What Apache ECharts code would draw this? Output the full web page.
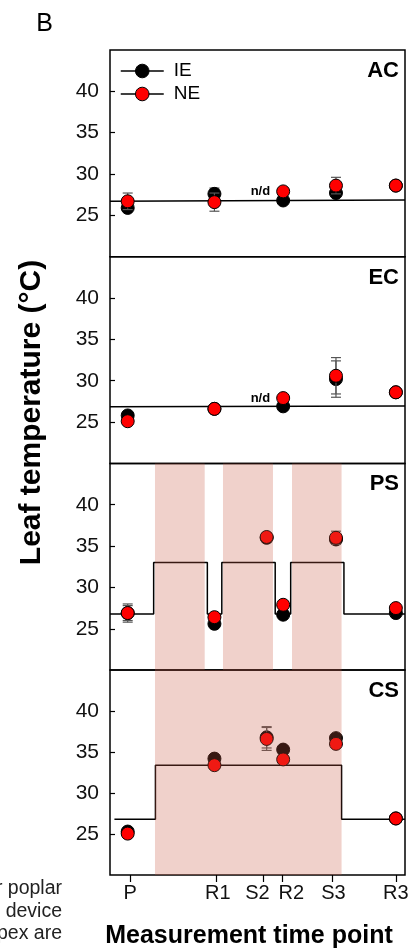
<!DOCTYPE html>
<html>
<head>
<meta charset="utf-8">
<script src="https://cdn.jsdelivr.net/npm/echarts@6/dist/echarts.min.js"></script>
<style>
  html, body { margin: 0; padding: 0; background: #fff; }
  #chart-container { width: 414px; height: 950px; }
</style>
</head>
<body>
<div id="chart-container"></div>
<script>
// time points (x in arbitrary time units, 0..100 across the panel)
var timeLabels = ['P', 'R1', 'S2', 'R2', 'S3', 'R3'];
var tickX = [6.8, 35.9, 52.0, 58.4, 75.4, 96.9];
var pointX = [6.0, 35.4, 53.1, 58.7, 76.6, 96.9];
var panels = ['AC', 'EC', 'PS', 'CS'];
var yTicks = [25, 30, 35, 40];

// leaf temperature means and error (null = n/d)
var acIE = [25.9, 27.6, null, 26.8, 27.7, 28.6];
var acIEse = [0.3, 0.7, null, 0.2, 0.3, 0.2];
var acNE = [26.7, 26.6, null, 27.9, 28.6, 28.6];
var acNEse = [1.0, 1.1, null, 0.3, 1.0, 0.2];

var ecIE = [25.8, 26.6, null, 26.9, 30.2, 28.6];
var ecIEse = [0.2, 0.2, null, 0.2, 2.2, 0.2];
var ecNE = [25.1, 26.6, null, 27.9, 30.6, 28.6];
var ecNEse = [0.2, 0.2, null, 0.2, 2.2, 0.2];

var psIE = [26.9, 25.6, 36.0, 26.7, 35.8, 26.9];
var psIEse = [1.1, 0.2, 0.5, 0.2, 0.6, 0.2];
var psNE = [26.9, 26.4, 36.1, 27.9, 36.0, 27.5];
var psNEse = [0.9, 0.2, 0.5, 0.3, 0.8, 0.3];

var csIE = [25.3, 34.2, 36.8, 35.3, 36.7, 26.9];
var csIEse = [0.2, 0.2, 1.3, 0.2, 0.2, 0.2];
var csNE = [25.05, 33.4, 36.6, 34.1, 36.0, 26.9];
var csNEse = [0.2, 0.2, 1.4, 0.2, 0.2, 0.2];

// air temperature regime
var acRef = [26.7, 26.85];
var ecRef = [26.85, 26.95];
var psStepX = [0, 14.8, 33.0, 37.9, 56.0, 61.25, 79.3, 100];
var psStepY = [26.8, 33.0, 26.8, 33.0, 26.8, 33.0, 26.8, 26.8];
var csStepX = [1.5, 15.4, 78.5, 100];
var csStepY = [26.8, 33.4, 26.8, 26.8];

// shaded (stress) periods
var psBands = [[15.25, 32.1], [38.3, 55.25], [61.7, 78.5]];
var csBands = [[15.25, 78.5]];

var ieData = [acIE, ecIE, psIE, csIE];
var ieSe = [acIEse, ecIEse, psIEse, csIEse];
var neData = [acNE, ecNE, psNE, csNE];
var neSe = [acNEse, ecNEse, psNEse, csNEse];
var hasND = [true, true, false, false];

// label nudges (px) so crowded tick labels do not collide
var labelShift = [0, 2, -6, 9, 1, 0];

var FONT = 'Liberation Sans, Arial, sans-serif';
var gridTop = 50, gridH = 206.7;

var dom = document.getElementById('chart-container');
var myChart = echarts.init(dom, null, { renderer: 'canvas' });

function tickIndex(v) {
  for (var k = 0; k < tickX.length; k++) {
    if (Math.abs(tickX[k] - v) < 1e-6) return k;
  }
  return -1;
}

var xRich = {};
labelShift.forEach(function (s, k) {
  xRich['t' + k] = {
    fontSize: 20, color: '#111', fontFamily: FONT,
    padding: s >= 0 ? [0, 0, 0, 2 * s] : [0, -2 * s, 0, 0]
  };
});

function errBar(params, api) {
  var x = api.value(0), m = api.value(1), s = api.value(2);
  var top = api.coord([x, m + s]);
  var bot = api.coord([x, m - s]);
  var hw = 5;
  var st = { stroke: '#555', lineWidth: 1.2 };
  return {
    type: 'group',
    children: [
      { type: 'line', shape: { x1: top[0], y1: top[1], x2: bot[0], y2: bot[1] }, style: st },
      { type: 'line', shape: { x1: top[0] - hw, y1: top[1], x2: top[0] + hw, y2: top[1] }, style: st },
      { type: 'line', shape: { x1: bot[0] - hw, y1: bot[1], x2: bot[0] + hw, y2: bot[1] }, style: st }
    ]
  };
}

function bandRect(params, api) {
  var a = api.coord([api.value(0), 0]);
  var b = api.coord([api.value(1), 0]);
  var cs = params.coordSys;
  return {
    type: 'rect',
    shape: { x: a[0], y: cs.y, width: b[0] - a[0], height: cs.height },
    style: { fill: 'rgba(200,90,70,0.28)' }
  };
}

var grids = [], xAxes = [], yAxes = [], series = [], titles = [];

panels.forEach(function (p, i) {
  var top = gridTop + i * gridH;
  grids.push({
    left: 110, width: 295, top: top, height: gridH,
    show: true, borderColor: '#000', borderWidth: 1.5, backgroundColor: 'transparent'
  });
  xAxes.push({
    gridIndex: i, type: 'value', min: 0, max: 100, show: i === 3,
    axisLine: { show: false },
    splitLine: { show: false },
    axisTick: { show: true, length: 7, lineStyle: { color: '#000', width: 1.2 }, customValues: tickX },
    axisLabel: {
      customValues: tickX, margin: 8,
      formatter: function (v) {
        var k = tickIndex(v);
        return k < 0 ? '' : '{t' + k + '|' + timeLabels[k] + '}';
      },
      rich: xRich
    },
    name: i === 3 ? 'Measurement time point' : '',
    nameLocation: 'middle', nameGap: 49,
    nameTextStyle: { fontSize: 25, fontWeight: 'bold', color: '#000', fontFamily: FONT, padding: [0, 17, 0, 0] }
  });
  yAxes.push({
    gridIndex: i, type: 'value', min: 20, max: 45, interval: 5,
    axisLine: { show: false },
    splitLine: { show: false },
    axisTick: { show: true, inside: true, length: 5, lineStyle: { color: '#000', width: 1.2 }, customValues: yTicks },
    axisLabel: { customValues: yTicks, fontSize: 21, color: '#111', margin: 11, fontFamily: FONT }
  });
  titles.push({
    text: p, right: 15, top: top + 10, padding: 0,
    textStyle: { fontSize: 22, fontWeight: 'bold', color: '#000', fontFamily: FONT }
  });

  // reference air temperature
  if (i === 0 || i === 1) {
    var ref = i === 0 ? acRef : ecRef;
    series.push({
      type: 'line', xAxisIndex: i, yAxisIndex: i, symbol: 'none', silent: true, z: 1,
      data: [[0, ref[0]], [100, ref[1]]],
      lineStyle: { color: '#000', width: 1.5 }
    });
  } else {
    var sx = i === 2 ? psStepX : csStepX;
    var sy = i === 2 ? psStepY : csStepY;
    series.push({
      type: 'line', xAxisIndex: i, yAxisIndex: i, symbol: 'none', silent: true, z: 1, step: 'end',
      data: sx.map(function (x, k) { return [x, sy[k]]; }),
      lineStyle: { color: '#000', width: 1.5 }
    });
  }

  [['IE', ieData[i], ieSe[i], '#000'], ['NE', neData[i], neSe[i], '#ff0000']].forEach(function (g, gi) {
    var vals = g[1], se = g[2];
    var errs = [], pts = [];
    vals.forEach(function (v, k) {
      if (v == null) return;
      errs.push([pointX[k], v, se[k]]);
      var item = { value: [pointX[k], v] };
      if (g[0] === 'NE' && hasND[i] && k === 3) {
        item.label = {
          show: true, formatter: 'n/d', position: 'left', distance: 6,
          fontSize: 13, fontWeight: 'bold', color: '#000', fontFamily: FONT
        };
      }
      pts.push(item);
    });
    series.push({
      type: 'custom', xAxisIndex: i, yAxisIndex: i, silent: true, z: 2 + gi * 2,
      renderItem: errBar, encode: { x: 0, y: 1 }, data: errs
    });
    series.push({
      name: g[0], type: 'line', xAxisIndex: i, yAxisIndex: i, z: 3 + gi * 2,
      symbol: 'circle', symbolSize: 13, showSymbol: true,
      lineStyle: { width: 0, opacity: 0 },
      itemStyle: { color: g[3], borderColor: '#000', borderWidth: 1 },
      label: { show: false },
      data: pts
    });
  });

  if (i >= 2) {
    series.push({
      type: 'custom', xAxisIndex: i, yAxisIndex: i, silent: true, z: 10,
      renderItem: bandRect, encode: { x: [0, 1] },
      data: i === 2 ? psBands : csBands
    });
  }
});

var option = {
  animation: false,
  textStyle: { fontFamily: FONT },
  grid: grids,
  xAxis: xAxes,
  yAxis: yAxes,
  title: titles,
  legend: {
    data: ['IE', 'NE'], orient: 'vertical', left: 120, top: 61.5, padding: 0,
    itemWidth: 43, itemHeight: 17, itemGap: 4, selectedMode: false,
    lineStyle: { color: '#000', width: 1.5, opacity: 1 },
    itemStyle: { borderColor: '#000', borderWidth: 1 },
    textStyle: { fontSize: 19, lineHeight: 17, color: '#000', fontFamily: FONT, padding: [0, 0, 0, 5] }
  },
  graphic: [
    { type: 'text', x: 44.5, y: 24, style: { text: 'B', fontSize: 25, fontFamily: FONT, fill: '#000', align: 'center', verticalAlign: 'middle' } },
    { type: 'text', x: 31.5, y: 412.5, rotation: Math.PI / 2,
      style: { text: 'Leaf temperature (°C)', fontSize: 30, fontWeight: 'bold', fontFamily: FONT, fill: '#000', align: 'center', verticalAlign: 'middle' } },
    { type: 'text', x: 62, y: 889, style: { text: 'r poplar', fontSize: 19.5, fontFamily: FONT, fill: '#222', align: 'right', verticalAlign: 'middle' } },
    { type: 'text', x: 62, y: 911.4, style: { text: 'device', fontSize: 19.5, fontFamily: FONT, fill: '#222', align: 'right', verticalAlign: 'middle' } },
    { type: 'text', x: 62, y: 934, style: { text: 'apex are', fontSize: 19.5, fontFamily: FONT, fill: '#222', align: 'right', verticalAlign: 'middle' } }
  ],
  series: series
};

myChart.setOption(option);
window.addEventListener('resize', myChart.resize);
</script>
</body>
</html>
